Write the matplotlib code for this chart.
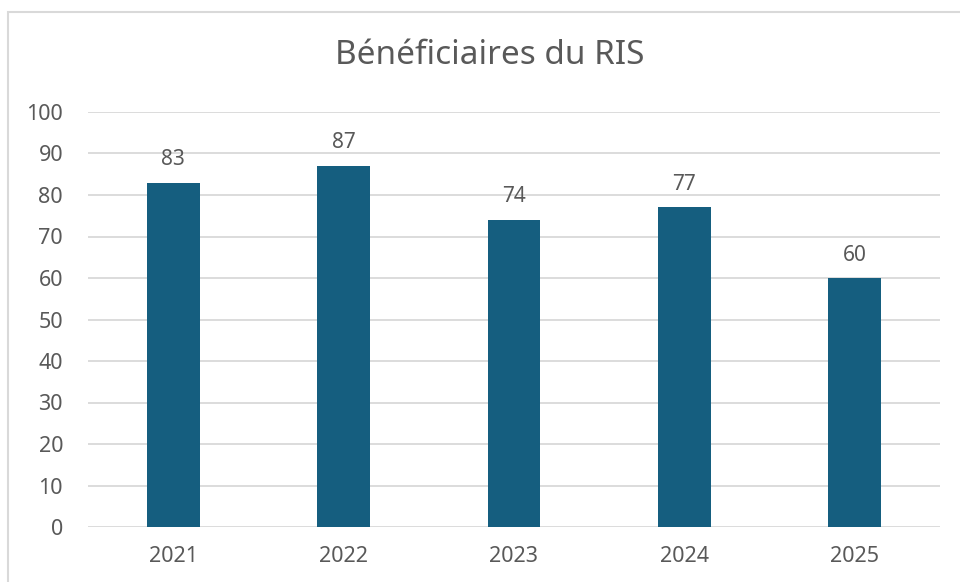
import matplotlib
matplotlib.use("Agg")
import matplotlib.pyplot as plt
from matplotlib.patches import Rectangle

years = ["2021", "2022", "2023", "2024", "2025"]
values = [83, 87, 74, 77, 60]

plt.rcParams['font.family'] = ['Noto Sans', 'DejaVu Sans']
grey = '#595959'

fig = plt.figure(figsize=(9.6, 5.82), dpi=100)
ax = fig.add_axes([88/960, 55/582, 852/960, 415/582])

# chart frame (cropped at right and bottom)
fig.patches.append(Rectangle((8/960, -0.1), 1.2, (582-12)/582 + 0.1, transform=fig.transFigure,
                             fill=False, edgecolor='#d9d9d9', linewidth=1.5))

x = range(len(years))
bars = ax.bar(x, values, width=0.31, color='#155e7f', zorder=3)
for b, v in zip(bars, values):
    ax.text(b.get_x() + b.get_width()/2, v + 3, str(v), ha='center', va='bottom',
            fontsize=15, color=grey)

ax.set_xlim(-0.5, len(years) - 0.5)
ax.set_ylim(0, 100)
ax.set_yticks(range(0, 101, 10))
ax.set_xticks(list(x))
ax.set_xticklabels(years)
ax.yaxis.grid(True, color='#d9d9d9', linewidth=1.3, zorder=0)
for s in ax.spines.values():
    s.set_visible(False)
ax.tick_params(length=0, labelsize=15.5, colors=grey)
ax.tick_params(axis='y', pad=18)
ax.tick_params(axis='x', pad=14)

fig.text(490/960, 1 - 56/582, "Bénéficiaires du RIS", ha='center', va='center',
         fontsize=24, color=grey)

fig.savefig("out.png", dpi=100)
